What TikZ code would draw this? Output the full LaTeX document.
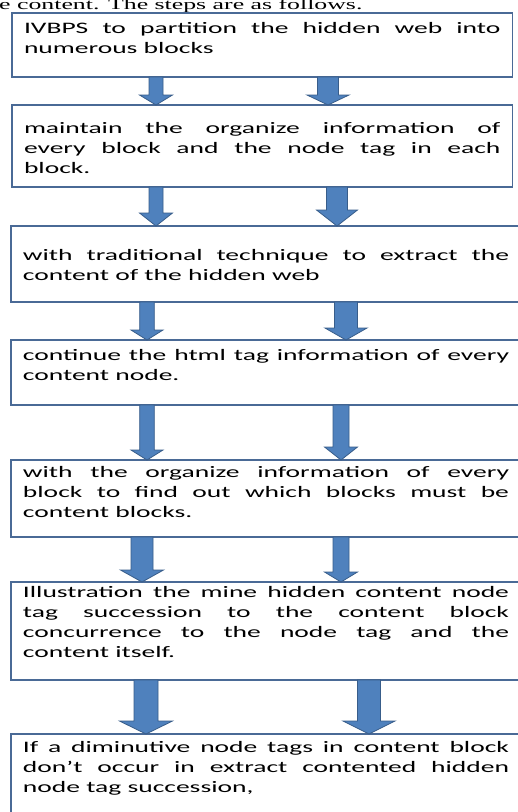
\documentclass[tikz,border=0pt]{standalone}
\usepackage{fontspec}
\usepackage{graphicx}
\usetikzlibrary{calc}
\newfontfamily\boxfont{Carlito}
\newfontfamily\headfont{Liberation Serif}
\definecolor{blkline}{RGB}{74,106,150}
\definecolor{arrfill}{RGB}{79,129,189}
\definecolor{arrline}{RGB}{56,93,138}
\tikzset{
  stepbox/.style={draw=blkline, line width=1.4pt, fill=white, anchor=north west, inner xsep=12pt, inner ysep=0pt, outer sep=0pt},
  blockarr/.style={fill=arrfill, draw=arrline, line width=0.8pt}
}
% text of a step: width, height, gap above first line, text
\newcommand{\steptext}[4]{\scalebox{1.72}[1]{\parbox[t][#2][t]{#1}{\boxfont\fontsize{16}{20}\selectfont\tolerance=10000\hyphenpenalty=10000\vspace*{#3}\rule{0pt}{13pt}#4}}}
% block arrow: from, to, x, half shaft, half head, head length
\newcommand{\dnarrow}[6]{%
  \path (#3,0 |- #1.south) coordinate (ar-top) (#3,0 |- #2.north) coordinate (ar-tip);
  \draw [blockarr] ($(ar-top)+(-#4,0)$) -- ($(ar-tip)+(-#4,-#6)$) -- ($(ar-tip)+(-#5,-#6)$) -- (ar-tip) -- ($(ar-tip)+(#5,-#6)$) -- ($(ar-tip)+(#4,-#6)$) -- ($(ar-top)+(#4,0)$) -- cycle ;}

\begin{document}
\begin{tikzpicture}[x=1pt,y=1pt,yscale=-1,xscale=1]
\path [use as bounding box, fill=white] (0,0) rectangle (518,812);

% Text Node
\node [anchor=base west, inner sep=0pt] (intro) at (-1,9.5) {\scalebox{1.72}[1]{\headfont\fontsize{15}{18}\selectfont e content. The steps are as follows.}};

%Shape: Rectangle
\node [stepbox] (blk1) at (12,13) {\steptext{277pt}{64pt}{7pt}{IVBPS to partition the hidden web into\linebreak numerous blocks}};
%Shape: Rectangle
\node [stepbox] (blk2) at (12,105) {\steptext{277pt}{82pt}{15pt}{maintain the organize information of\linebreak every block and the node tag in each\linebreak block.}};
%Shape: Rectangle
\node [stepbox] (blk3) at (11,226) {\steptext{282.6pt}{76pt}{21pt}{with traditional technique to extract the\linebreak content of the hidden web}};
%Shape: Rectangle
\node [stepbox] (blk4) at (11,340) {\steptext{282.6pt}{65pt}{7pt}{continue the html tag information of every\linebreak content node.}};
%Shape: Rectangle
\node [stepbox] (blk5) at (11,460) {\steptext{282.6pt}{77pt}{4pt}{with the organize information of every\linebreak block to find out which blocks must be\linebreak content blocks.}};
%Shape: Rectangle
\node [stepbox] (blk6) at (11,582) {\steptext{282.6pt}{98pt}{2pt}{Illustration the mine hidden content node\linebreak tag succession to the content block\linebreak concurrence to the node tag and the\linebreak content itself.}};
%Shape: Rectangle
\node [stepbox] (blk7) at (11,734) {\steptext{282.6pt}{100pt}{5pt}{If a diminutive node tags in content block\linebreak don’t occur in extract contented hidden\linebreak node tag succession,}};

%Block Arrows
\dnarrow{blk1}{blk2}{156}{7}{16.5}{10}
\dnarrow{blk1}{blk2}{328}{10.5}{21}{10}
\dnarrow{blk2}{blk3}{156}{7}{16.5}{13}
\dnarrow{blk2}{blk3}{337}{10.5}{20.5}{16}
\dnarrow{blk3}{blk4}{147}{7.3}{16}{10}
\dnarrow{blk3}{blk4}{346}{11.5}{21}{12}
\dnarrow{blk4}{blk5}{147}{7.3}{16}{10}
\dnarrow{blk4}{blk5}{341}{8}{16.5}{13}
\dnarrow{blk5}{blk6}{142}{11}{21.5}{12}
\dnarrow{blk5}{blk6}{341}{8}{16.5}{10}
\dnarrow{blk6}{blk7}{146}{12}{26.5}{13}
\dnarrow{blk6}{blk7}{369}{11.5}{26}{13}

\end{tikzpicture}
\end{document}
